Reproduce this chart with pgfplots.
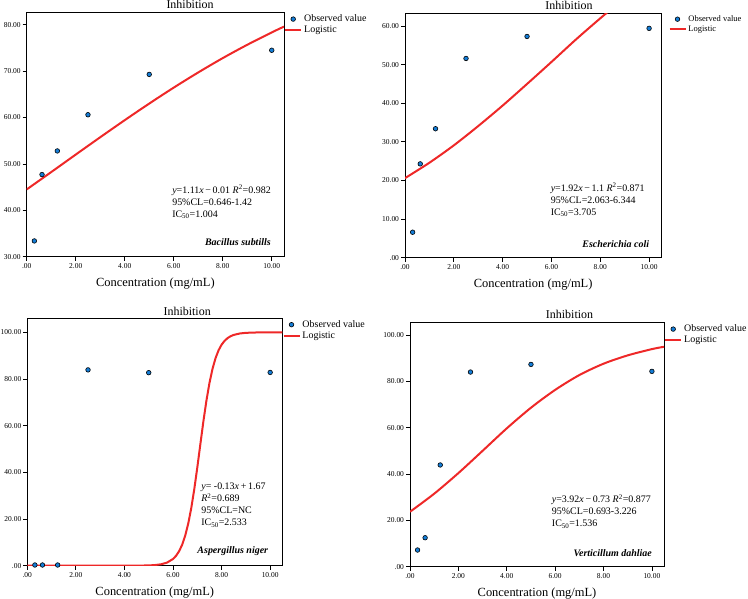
\documentclass[border=0pt]{standalone}
\usepackage{fontspec}
\setmainfont{Liberation Serif}
\usepackage{pgfplots}
\pgfplotsset{compat=1.18}
\definecolor{obsblue}{RGB}{20,125,215}
\definecolor{fitred}{RGB}{238,40,40}
\pgfplotsset{
  every axis title/.style={at={(axis description cs:0.5,1)}, anchor=base, yshift=4.2bp, font=\fontsize{12}{14}\selectfont},
  panel/.style={
    scale only axis,
    anchor=south west,
    axis line style={black,line width=0.8bp},
    tick style={black,line width=0.8bp},
    tick align=outside,
    major tick length=4bp,
    xtick pos=left, ytick pos=left,
    xmin=0, xmax=10.5,
    xtick={0,2,4,6,8,10},
    xticklabels={.00,2.00,4.00,6.00,8.00,10.00},
    tick label style={font=\fontsize{7.5}{9}\selectfont},
    xticklabel style={yshift=1bp},
    yticklabel style={xshift=1.5bp},
    title=Inhibition,
    xlabel={Concentration (mg/mL)},
    xlabel style={font=\fontsize{12.5}{14}\selectfont, at={(axis description cs:0.5,0)}, anchor=base, yshift=-29.5bp},
    legend style={at={(1,1)}, anchor=north west, draw=none, fill=none,
      inner sep=0pt, row sep=-1bp, font=\fontsize{10}{11}\selectfont},
    legend cell align=left,
  },
  obs/.style={only marks, mark=*, mark size=2.3bp,
    mark options={fill=obsblue, draw=black, line width=0.6bp},
    legend image code/.code={\draw[##1] plot coordinates {(8bp,0bp)};}},
  fit/.style={fitred, line width=2bp, no marks,
    legend image code/.code={\draw[##1] (0bp,0bp) -- (16bp,0bp);}},
}
\begin{document}
\begin{tikzpicture}
\path[use as bounding box] (0bp,0bp) rectangle (748bp,599bp);

% Panel 1: Bacillus subtills
\begin{axis}[panel,
  at={(26.7bp,342.3bp)}, width=257.3bp, height=244bp,
  ymin=30, ymax=82.6,
  ytick={30,40,50,60,70,80},
  yticklabels={30.00,40.00,50.00,60.00,70.00,80.00},
  title style={at={(axis description cs:0.635,1)}},
]
\addplot[obs] coordinates {(0.3125,33.4)(0.625,47.7)(1.25,52.8)(2.5,60.6)(5,69.3)(10,74.5)};
\addlegendentry{Observed value}
\addplot[fit, smooth] coordinates {(0,44.50)(1,48.24)(2,52.01)(3,55.75)(4,59.43)(5,63.01)(6,66.45)(7,69.72)(8,72.81)(9,75.68)(10,78.35)(10.5,79.60)};
\addlegendentry{Logistic}
\node[anchor=north west, align=left, font=\fontsize{10}{12}\selectfont, inner sep=0pt] at (axis description cs:0.565,0.295)
  {\textit{y}=1.11\textit{x}\,−\,0.01 \textit{R}\textsuperscript{2}=0.982\\95\%CL=0.646-1.42\\IC\textsubscript{50}=1.004};
\node[anchor=east, font=\fontsize{10}{12}\selectfont\bfseries\itshape, inner sep=0pt] at (axis description cs:0.949,0.06) {Bacillus subtills};
\end{axis}

% Panel 2: Escherichia coli
\begin{axis}[panel,
  at={(405bp,341.3bp)}, width=256.3bp, height=244.4bp,
  ymin=0, ymax=63.3,
  ytick={0,10,20,30,40,50,60},
  yticklabels={.00,10.00,20.00,30.00,40.00,50.00,60.00},
  title style={at={(axis description cs:0.64,1)}},
  legend style={xshift=7bp, font=\fontsize{8.5}{9.5}\selectfont},
]
\addplot[obs] coordinates {(0.3125,6.6)(0.625,24.3)(1.25,33.4)(2.5,51.6)(5,57.3)(10,59.4)};
\addlegendentry{Observed value}
\addplot[fit, smooth] coordinates {(0,20.6)(1,24.6)(2,29.1)(3,34.1)(4,39.4)(5,45.0)(6,50.7)(7,56.5)(8,62.0)(9,67.3)(10,72.1)(10.5,74.4)};
\addlegendentry{Logistic}
\node[anchor=north west, align=left, font=\fontsize{10}{12}\selectfont, inner sep=0pt] at (axis description cs:0.568,0.305)
  {\textit{y}=1.92\textit{x}\,−\,1.1 \textit{R}\textsuperscript{2}=0.871\\95\%CL=2.063-6.344\\IC\textsubscript{50}=3.705};
\node[anchor=east, font=\fontsize{10}{12}\selectfont\bfseries\itshape, inner sep=0pt] at (axis description cs:0.953,0.055) {Escherichia coli};
\end{axis}

% Panel 3: Aspergillus niger
\begin{axis}[panel,
  at={(27.3bp,33.3bp)}, width=255bp, height=247.4bp,
  ymin=0, ymax=106,
  ytick={0,20,40,60,80,100},
  yticklabels={.00,20.00,40.00,60.00,80.00,100.00},
  title style={at={(axis description cs:0.627,1)}, yshift=-1.5bp},
]
\addplot[obs] coordinates {(0.3125,0.3)(0.625,0.3)(1.25,0.3)(2.5,83.9)(5,82.7)(10,82.8)};
\addlegendentry{Observed value}
\addplot[fit] coordinates {(0,0)(1,0)(2,0)(3,0)(4,0)(4.5,0.03)(5,0.12)(5.25,0.27)(5.5,0.59)(5.75,1.31)(6,2.88)(6.125,4.23)(6.25,6.18)(6.375,8.95)(6.5,12.79)(6.625,17.95)(6.75,24.60)(6.875,32.74)(7,42.07)(7.125,52.0)(7.25,61.78)(7.375,70.68)(7.5,78.25)(7.625,84.29)(7.75,88.90)(7.875,92.28)(8,94.69)(8.125,96.37)(8.25,97.54)(8.375,98.34)(8.5,98.88)(8.75,99.49)(9,99.77)(9.5,99.95)(10,99.99)(10.5,100)};
\addlegendentry{Logistic}
\node[anchor=north west, align=left, font=\fontsize{10}{12}\selectfont, inner sep=0pt] at (axis description cs:0.682,0.334)
  {\textit{y}= -0.13\textit{x}\,+\,1.67\\\textit{R}\textsuperscript{2}=0.689\\95\%CL=NC\\IC\textsubscript{50}=2.533};
\node[anchor=east, font=\fontsize{10}{12}\selectfont\bfseries\itshape, inner sep=0pt] at (axis description cs:0.945,0.057) {Aspergillus niger};
\end{axis}

% Panel 4: Verticillum dahliae
\begin{axis}[panel,
  at={(410bp,32.3bp)}, width=254bp, height=244bp,
  ymin=0, ymax=105.3,
  ytick={0,20,40,60,80,100},
  yticklabels={.00,20.00,40.00,60.00,80.00,100.00},
  title style={at={(axis description cs:0.628,1)}},
  legend style={xshift=0bp},
]
\addplot[obs] coordinates {(0.3125,7.2)(0.625,12.5)(1.25,43.9)(2.5,84.0)(5,87.3)(10,84.3)};
\addlegendentry{Observed value}
\addplot[fit, smooth] coordinates {(0,23.7)(1,31.5)(2,40.4)(3,50.0)(4,59.7)(5,68.6)(6,76.3)(7,82.7)(8,87.6)(9,91.2)(10,93.9)(10.5,94.9)};
\addlegendentry{Logistic}
\node[anchor=north west, align=left, font=\fontsize{10}{12}\selectfont, inner sep=0pt] at (axis description cs:0.558,0.296)
  {\textit{y}=3.92\textit{x}\,−\,0.73 \textit{R}\textsuperscript{2}=0.877\\95\%CL=0.693-3.226\\IC\textsubscript{50}=1.536};
\node[anchor=east, font=\fontsize{10}{12}\selectfont\bfseries\itshape, inner sep=0pt] at (axis description cs:0.953,0.055) {Verticillum dahliae};
\end{axis}
\end{tikzpicture}
\end{document}
